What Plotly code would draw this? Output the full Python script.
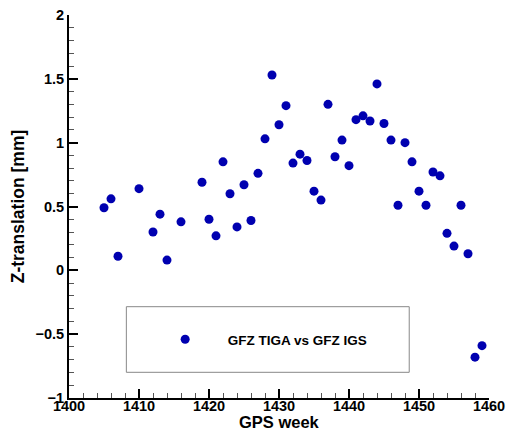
import plotly.graph_objects as go

weeks = [1405, 1406, 1407, 1410, 1412, 1413, 1414, 1416, 1419, 1420, 1421, 1422, 1423, 1424,
         1425, 1426, 1427, 1428, 1429, 1430, 1431, 1432, 1433, 1434, 1435, 1436, 1437, 1438,
         1439, 1440, 1441, 1442, 1443, 1444, 1445, 1446, 1447, 1448, 1449, 1450, 1451, 1452,
         1453, 1454, 1455, 1456, 1457, 1458, 1459]
z_trans = [0.49, 0.56, 0.11, 0.64, 0.30, 0.44, 0.08, 0.38, 0.69, 0.40, 0.27, 0.85, 0.60, 0.34,
           0.67, 0.39, 0.76, 1.03, 1.53, 1.14, 1.29, 0.84, 0.91, 0.86, 0.62, 0.55, 1.30, 0.89,
           1.02, 0.82, 1.18, 1.21, 1.17, 1.46, 1.15, 1.02, 0.51, 1.00, 0.85, 0.62, 0.51, 0.77,
           0.74, 0.29, 0.19, 0.51, 0.13, -0.68, -0.59]
series_name = "GFZ TIGA vs GFZ IGS"
x_title = "GPS week"
y_title = "Z-translation [mm]"

font_family = "Liberation Sans, Arial, sans-serif"
tick_font = dict(family=font_family, size=14.5, color="black", weight="bold")
title_font = dict(family=font_family, size=17.5, color="black", weight="bold")
xtitle_font = dict(family=font_family, size=16.5, color="black", weight="bold")

fig = go.Figure()
fig.add_trace(go.Scatter(
    x=weeks, y=z_trans, mode="markers", name=series_name,
    marker=dict(color="#0000B0", size=9, line=dict(width=0)),
    showlegend=True,
))

axis_common = dict(
    showgrid=False, zeroline=False, showline=True, linecolor="black", linewidth=2,
    ticks="inside", ticklen=9, tickwidth=2, tickcolor="black",
    tickfont=tick_font, mirror=False, automargin=False,
)

fig.update_xaxes(
    range=[1400, 1460], dtick=10, tick0=1400, ticklabelstandoff=-6,
    minor=dict(dtick=2, ticks="inside", ticklen=5, tickwidth=1, tickcolor="#555"),
    **axis_common,
)
fig.update_yaxes(
    range=[-1, 2], dtick=0.5, tick0=0,
    minor=dict(dtick=0.1, ticks="inside", ticklen=5, tickwidth=1, tickcolor="#555"),
    title=dict(text=y_title, font=title_font, standoff=6),
    **axis_common,
)

fig.add_annotation(text=x_title, xref="paper", yref="paper", x=0.5, y=(398 - 421.5) / 383,
                   xanchor="center", yanchor="middle", showarrow=False,
                   borderpad=0, font=xtitle_font)

fig.add_shape(type="rect", xref="paper", yref="paper",
              x0=(126.7 - 69.4) / 419.6, x1=(409.3 - 69.4) / 419.6,
              y0=(398 - 372.3) / 383, y1=(398 - 306.7) / 383,
              line=dict(color="#888", width=1), fillcolor="rgba(0,0,0,0)")

fig.update_layout(
    width=508, height=432,
    margin=dict(l=69, r=19, t=15, b=34, autoexpand=False),
    paper_bgcolor="white", plot_bgcolor="white",
    font=dict(family=font_family, color="black"),
    showlegend=True,
    legend=dict(
        x=(143 - 69.4) / 419.6, y=(398 - 339.5) / 383, xanchor="left", yanchor="middle",
        bgcolor="rgba(0,0,0,0)", borderwidth=0, itemwidth=75,
        font=dict(family=font_family, size=13.5, color="black", weight="bold"),
    ),
)

fig.write_html("out.html")
